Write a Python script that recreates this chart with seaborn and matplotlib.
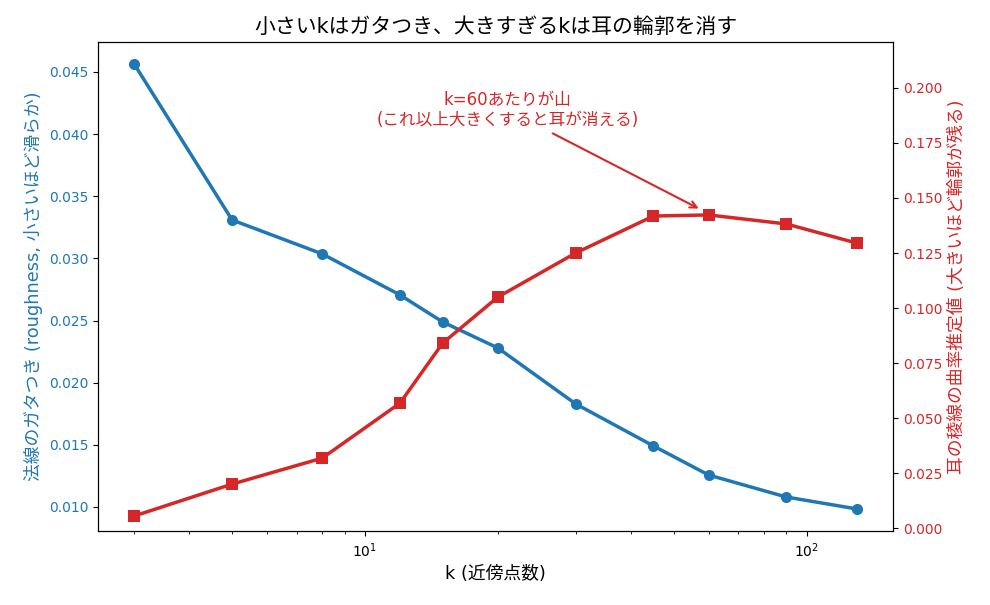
import matplotlib
matplotlib.use("Agg")
import matplotlib.pyplot as plt
import seaborn as sns
import pandas as pd

k_values = [3, 5, 8, 12, 15, 20, 30, 45, 60, 90, 130]
roughness = [0.04564, 0.03309, 0.03036, 0.02706, 0.02488, 0.02279, 0.01829, 0.01491, 0.01257, 0.01080, 0.00984]
curvature = [0.0055, 0.0200, 0.0318, 0.0568, 0.0841, 0.1050, 0.1250, 0.1418, 0.1423, 0.1382, 0.1295]

title = "小さいkはガタつき、大きすぎるkは耳の輪郭を消す"
xlabel = "k (近傍点数)"
ylabel_left = "法線のガタつき (roughness, 小さいほど滑らか)"
ylabel_right = "耳の稜線の曲率推定値 (大きいほど輪郭が残る)"
annot_text = "k=60あたりが山\n(これ以上大きくすると耳が消える)"

plt.rcParams['font.family'] = ['DejaVu Sans', 'Noto Sans CJK JP']

df = pd.DataFrame({"k": k_values, "rough": roughness, "curv": curvature})

blue = "#1f77b4"
red = "#d62728"

fig, ax = plt.subplots(figsize=(9.9, 6.05), dpi=100)
fig.subplots_adjust(left=0.099, right=0.902, top=0.931, bottom=0.122)

sns.lineplot(data=df, x="k", y="rough", ax=ax, color=blue, marker="o",
             markersize=8, linewidth=2.5, markeredgewidth=0)
ax.set_xscale("log")
ax.set_xlabel(xlabel, fontsize=12.8)
ax.set_ylabel(ylabel_left, color=blue, fontsize=12.8)
ax.tick_params(axis="y", labelcolor=blue, labelsize=10)
ax.tick_params(axis="x", labelsize=10)

ax2 = ax.twinx()
sns.lineplot(data=df, x="k", y="curv", ax=ax2, color=red, marker="s",
             markersize=8, linewidth=2.5, markeredgewidth=0)
ax2.set_ylabel(ylabel_right, color=red, fontsize=12.8)
ax2.tick_params(axis="y", labelcolor=red, labelsize=10)
ax2.set_ylim(-0.0014, 0.221)

ax2.annotate(annot_text, xy=(57, 0.1452), xytext=(21, 0.19),
             ha="center", va="center", color=red, fontsize=12,
             arrowprops=dict(arrowstyle="->", color=red, lw=1.5, shrinkB=0))

ax.set_title(title, fontsize=15)

fig.savefig("out.png", dpi=100)
